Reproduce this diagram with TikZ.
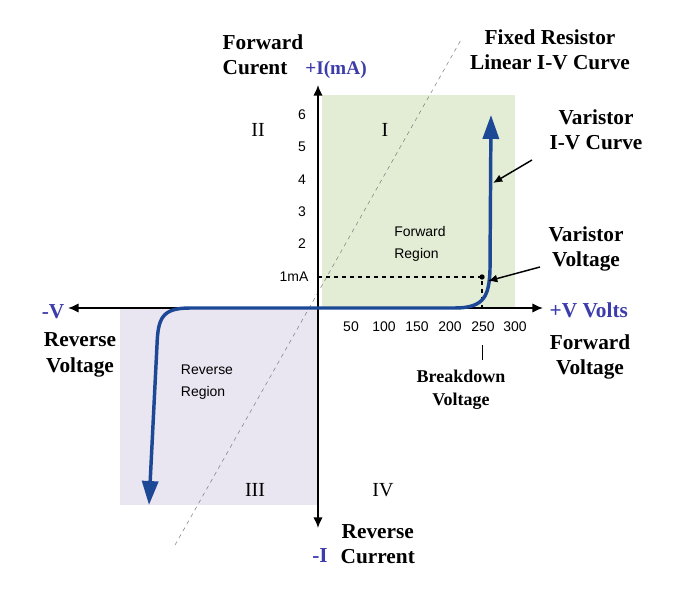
\documentclass[tikz,border=0pt]{standalone}
\usepackage{fontspec}
\setmainfont{Liberation Serif}
\newfontfamily\numfont{Liberation Sans}
\usetikzlibrary{arrows.meta}
\definecolor{fwdgreen}{RGB}{227,236,213}
\definecolor{revlilac}{RGB}{233,229,241}
\definecolor{curveblue}{RGB}{28,72,150}
\definecolor{lblblue}{RGB}{60,60,170}
\tikzset{
  lbl/.style={font=\bfseries\fontsize{16}{19}\selectfont, align=center},
  bluelbl/.style={lbl, text=lblblue},
  tick/.style={font=\numfont\fontsize{10.5}{11}\selectfont},
  region/.style={font=\numfont\fontsize{10.5}{17}\selectfont, align=left},
  quad/.style={font=\fontsize{15}{16}\selectfont},
  pointer/.style={-{Latex[length=7pt,width=6pt]}, line width=1.1pt}
}
\begin{document}
\begin{tikzpicture}[x=0.0264cm, y=-0.0264cm]
		\useasboundingbox (0,0) rectangle (687,597);
		% shaded regions
		\fill[fwdgreen] (322,95) rectangle (515,308);
		\fill[revlilac] (120,308) rectangle (318,505);
		% fixed resistor line
		\coordinate (rlo) at (175,545);
		\coordinate (rhi) at (462,38);
		\draw[gray, dashed] (rlo) -- (rhi);
		% axes
		\coordinate (O) at (318,308);
		\coordinate (xl) at (68,308);
		\coordinate (xr) at (543,308);
		\coordinate (yt) at (318,85);
		\coordinate (yb) at (318,528);
		\draw[line width=1.1pt, {Latex[length=8pt,width=7pt]}-{Latex[length=8pt,width=7pt]}] (xl) -- (xr);
		\draw[line width=1.1pt, {Latex[length=8pt,width=7pt]}-{Latex[length=8pt,width=7pt]}] (yb) -- (yt);
		% ticks
		\foreach \v/\y in {6/115,5/147,4/180,3/212,2/244}
		    \node[tick] (ty\v) at (302,\y) {\v};
		\node[tick] (ty1) at (294,277) {1mA};
		\foreach \v/\x in {50/351,100/384,150/417,200/450,250/483,300/515}
		    \node[tick] (tx\v) at (\x,327) {\v};
		% varistor voltage marks
		\coordinate (vv) at (482,277);
		\coordinate (vy) at (318,277);
		\coordinate (vx) at (482,308);
		\draw[dashed, line width=0.8pt] (vy) -- (vv) -- (vx);
		\draw[line width=0.6pt] (482,345) -- (482,360);
		\fill (vv) circle (2pt);
		% varistor curve
		\draw[curveblue, line width=2.6pt, -{Triangle[length=18pt,width=12pt]}]
		    (190,308) -- (455,308) .. controls (485,308) and (489,295) .. (490,270) -- (491,115);
		\draw[curveblue, line width=2.6pt, -{Triangle[length=18pt,width=12pt]}]
		    (190,308) .. controls (162,308) and (158,318) .. (157,345) -- (149,505);
		% pointers
		\draw[pointer] (532,160) -- (493,183);
		\draw[pointer] (540,267) -- (488,281);
		% labels
		\node[lbl, align=left, anchor=west] (fc) at (218,55) {Forward\\Curent};
		\node[bluelbl, font=\bfseries\fontsize{14.5}{17}\selectfont] (iax) at (336,70) {+I(mA)};
		\node[lbl] (fr) at (550,50) {Fixed Resistor\\Linear I-V Curve};
		\node[lbl] (vc) at (596,130) {Varistor\\I-V Curve};
		\node[lbl] (vvl) at (586,249) {Varistor\\Voltage};
		\node[bluelbl, anchor=west] (vax) at (545,310) {+V Volts};
		\node[lbl] (fv) at (590,357) {Forward\\Voltage};
		\node[bluelbl] (vneg) at (53,312) {-V};
		\node[lbl] (rv) at (80,355) {Reverse\\Voltage};
		\node[lbl, font=\bfseries\fontsize{13.5}{17}\selectfont] (bv) at (461,390) {Breakdown\\Voltage};
		\node[lbl, anchor=west] (rc) at (336,544) {Reverse\\Current};
		\node[bluelbl] (ineg) at (320,556) {-I};
		\node[quad] (q2) at (258,130) {II};
		\node[quad] (q1) at (385,130) {I};
		\node[quad] (q3) at (255,490) {III};
		\node[quad] (q4) at (383,490) {IV};
		\node[region] (fwr) at (420,244) {Forward\\Region};
		\node[region] (rvr) at (207,382) {Reverse\\Region};
	\end{tikzpicture}
\end{document}
